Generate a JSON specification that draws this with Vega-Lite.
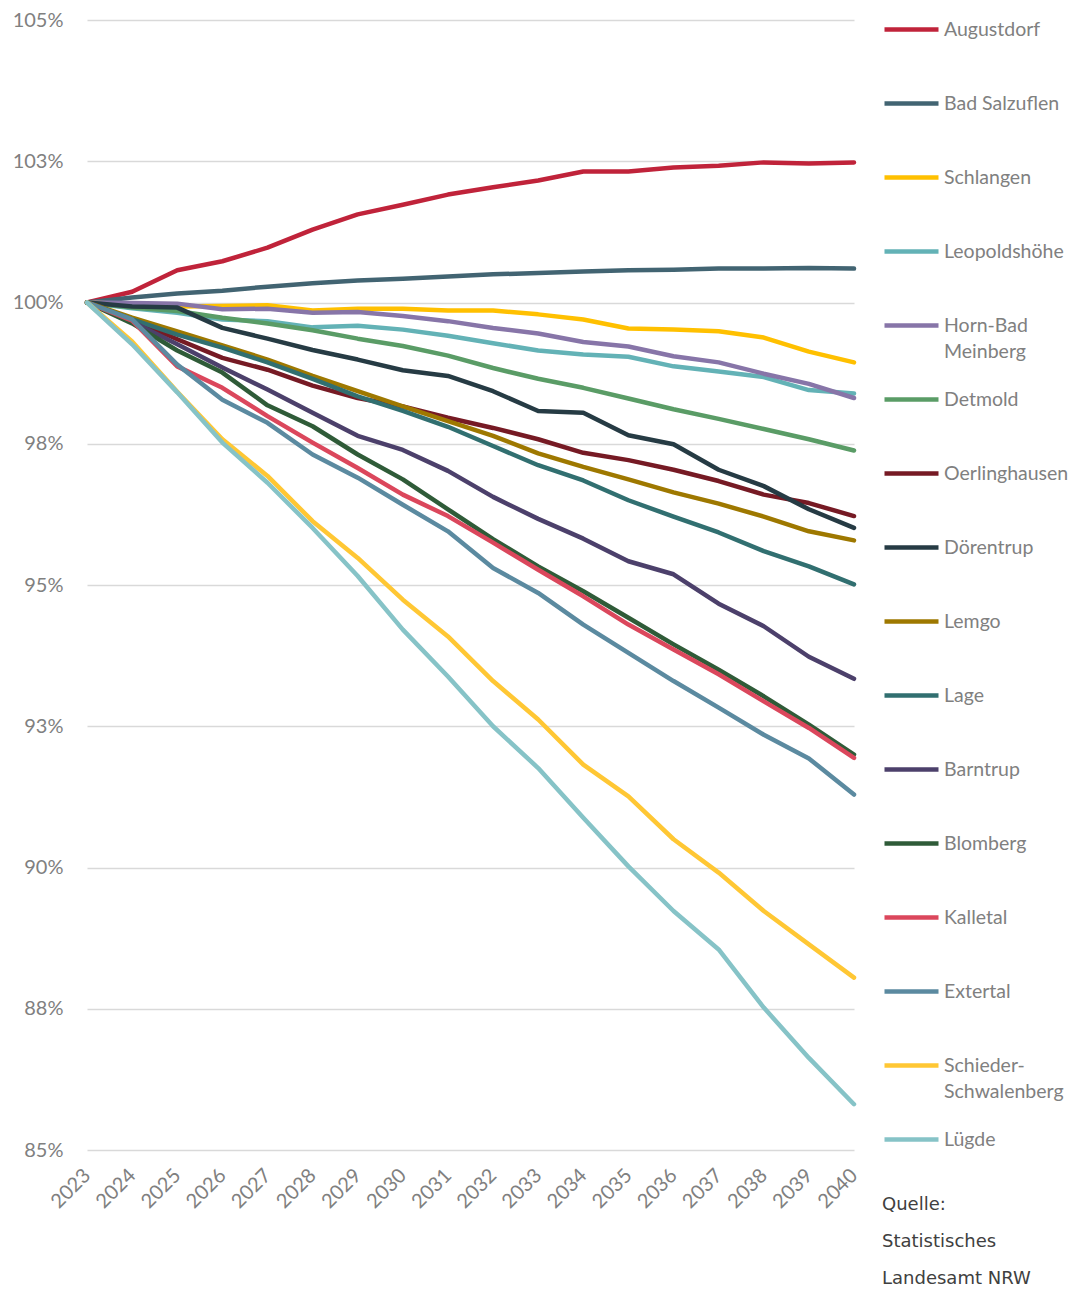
{
  "$schema": "https://vega.github.io/schema/vega-lite/v6.json",
  "width": 767,
  "height": 1150,
  "padding": {"left": 12, "top": 0, "right": 0, "bottom": 0},
  "background": "white",
  "data": {"values": [
{"s":"Augustdorf","t":2023,"v":100},{"s":"Augustdorf","t":2024,"v":100.19},{"s":"Augustdorf","t":2025,"v":100.57},{"s":"Augustdorf","t":2026,"v":100.73},{"s":"Augustdorf","t":2027,"v":100.97},{"s":"Augustdorf","t":2028,"v":101.29},{"s":"Augustdorf","t":2029,"v":101.56},{"s":"Augustdorf","t":2030,"v":101.73},{"s":"Augustdorf","t":2031,"v":101.91},{"s":"Augustdorf","t":2032,"v":102.04},{"s":"Augustdorf","t":2033,"v":102.16},{"s":"Augustdorf","t":2034,"v":102.32},{"s":"Augustdorf","t":2035,"v":102.32},{"s":"Augustdorf","t":2036,"v":102.39},{"s":"Augustdorf","t":2037,"v":102.42},{"s":"Augustdorf","t":2038,"v":102.48},{"s":"Augustdorf","t":2039,"v":102.46},{"s":"Augustdorf","t":2040,"v":102.48},
{"s":"Bad Salzuflen","t":2023,"v":100},{"s":"Bad Salzuflen","t":2024,"v":100.09},{"s":"Bad Salzuflen","t":2025,"v":100.16},{"s":"Bad Salzuflen","t":2026,"v":100.21},{"s":"Bad Salzuflen","t":2027,"v":100.28},{"s":"Bad Salzuflen","t":2028,"v":100.34},{"s":"Bad Salzuflen","t":2029,"v":100.39},{"s":"Bad Salzuflen","t":2030,"v":100.42},{"s":"Bad Salzuflen","t":2031,"v":100.46},{"s":"Bad Salzuflen","t":2032,"v":100.50},{"s":"Bad Salzuflen","t":2033,"v":100.52},{"s":"Bad Salzuflen","t":2034,"v":100.55},{"s":"Bad Salzuflen","t":2035,"v":100.57},{"s":"Bad Salzuflen","t":2036,"v":100.58},{"s":"Bad Salzuflen","t":2037,"v":100.60},{"s":"Bad Salzuflen","t":2038,"v":100.60},{"s":"Bad Salzuflen","t":2039,"v":100.61},{"s":"Bad Salzuflen","t":2040,"v":100.60},
{"s":"Schlangen","t":2023,"v":100},{"s":"Schlangen","t":2024,"v":99.97},{"s":"Schlangen","t":2025,"v":99.93},{"s":"Schlangen","t":2026,"v":99.94},{"s":"Schlangen","t":2027,"v":99.95},{"s":"Schlangen","t":2028,"v":99.86},{"s":"Schlangen","t":2029,"v":99.89},{"s":"Schlangen","t":2030,"v":99.89},{"s":"Schlangen","t":2031,"v":99.86},{"s":"Schlangen","t":2032,"v":99.86},{"s":"Schlangen","t":2033,"v":99.79},{"s":"Schlangen","t":2034,"v":99.70},{"s":"Schlangen","t":2035,"v":99.54},{"s":"Schlangen","t":2036,"v":99.52},{"s":"Schlangen","t":2037,"v":99.49},{"s":"Schlangen","t":2038,"v":99.38},{"s":"Schlangen","t":2039,"v":99.13},{"s":"Schlangen","t":2040,"v":98.94},
{"s":"Leopoldshöhe","t":2023,"v":100},{"s":"Leopoldshöhe","t":2024,"v":99.90},{"s":"Leopoldshöhe","t":2025,"v":99.82},{"s":"Leopoldshöhe","t":2026,"v":99.70},{"s":"Leopoldshöhe","t":2027,"v":99.67},{"s":"Leopoldshöhe","t":2028,"v":99.56},{"s":"Leopoldshöhe","t":2029,"v":99.59},{"s":"Leopoldshöhe","t":2030,"v":99.52},{"s":"Leopoldshöhe","t":2031,"v":99.41},{"s":"Leopoldshöhe","t":2032,"v":99.28},{"s":"Leopoldshöhe","t":2033,"v":99.15},{"s":"Leopoldshöhe","t":2034,"v":99.08},{"s":"Leopoldshöhe","t":2035,"v":99.04},{"s":"Leopoldshöhe","t":2036,"v":98.87},{"s":"Leopoldshöhe","t":2037,"v":98.78},{"s":"Leopoldshöhe","t":2038,"v":98.68},{"s":"Leopoldshöhe","t":2039,"v":98.45},{"s":"Leopoldshöhe","t":2040,"v":98.39},
{"s":"Horn-Bad Meinberg","t":2023,"v":100},{"s":"Horn-Bad Meinberg","t":2024,"v":99.99},{"s":"Horn-Bad Meinberg","t":2025,"v":99.98},{"s":"Horn-Bad Meinberg","t":2026,"v":99.88},{"s":"Horn-Bad Meinberg","t":2027,"v":99.89},{"s":"Horn-Bad Meinberg","t":2028,"v":99.82},{"s":"Horn-Bad Meinberg","t":2029,"v":99.83},{"s":"Horn-Bad Meinberg","t":2030,"v":99.76},{"s":"Horn-Bad Meinberg","t":2031,"v":99.67},{"s":"Horn-Bad Meinberg","t":2032,"v":99.55},{"s":"Horn-Bad Meinberg","t":2033,"v":99.45},{"s":"Horn-Bad Meinberg","t":2034,"v":99.30},{"s":"Horn-Bad Meinberg","t":2035,"v":99.22},{"s":"Horn-Bad Meinberg","t":2036,"v":99.05},{"s":"Horn-Bad Meinberg","t":2037,"v":98.94},{"s":"Horn-Bad Meinberg","t":2038,"v":98.74},{"s":"Horn-Bad Meinberg","t":2039,"v":98.56},{"s":"Horn-Bad Meinberg","t":2040,"v":98.31},
{"s":"Detmold","t":2023,"v":100},{"s":"Detmold","t":2024,"v":99.91},{"s":"Detmold","t":2025,"v":99.85},{"s":"Detmold","t":2026,"v":99.73},{"s":"Detmold","t":2027,"v":99.63},{"s":"Detmold","t":2028,"v":99.51},{"s":"Detmold","t":2029,"v":99.36},{"s":"Detmold","t":2030,"v":99.23},{"s":"Detmold","t":2031,"v":99.06},{"s":"Detmold","t":2032,"v":98.84},{"s":"Detmold","t":2033,"v":98.65},{"s":"Detmold","t":2034,"v":98.49},{"s":"Detmold","t":2035,"v":98.30},{"s":"Detmold","t":2036,"v":98.11},{"s":"Detmold","t":2037,"v":97.94},{"s":"Detmold","t":2038,"v":97.76},{"s":"Detmold","t":2039,"v":97.58},{"s":"Detmold","t":2040,"v":97.38},
{"s":"Oerlinghausen","t":2023,"v":100},{"s":"Oerlinghausen","t":2024,"v":99.70},{"s":"Oerlinghausen","t":2025,"v":99.35},{"s":"Oerlinghausen","t":2026,"v":99.02},{"s":"Oerlinghausen","t":2027,"v":98.81},{"s":"Oerlinghausen","t":2028,"v":98.53},{"s":"Oerlinghausen","t":2029,"v":98.31},{"s":"Oerlinghausen","t":2030,"v":98.16},{"s":"Oerlinghausen","t":2031,"v":97.96},{"s":"Oerlinghausen","t":2032,"v":97.78},{"s":"Oerlinghausen","t":2033,"v":97.58},{"s":"Oerlinghausen","t":2034,"v":97.34},{"s":"Oerlinghausen","t":2035,"v":97.21},{"s":"Oerlinghausen","t":2036,"v":97.04},{"s":"Oerlinghausen","t":2037,"v":96.84},{"s":"Oerlinghausen","t":2038,"v":96.60},{"s":"Oerlinghausen","t":2039,"v":96.45},{"s":"Oerlinghausen","t":2040,"v":96.22},
{"s":"Dörentrup","t":2023,"v":100},{"s":"Dörentrup","t":2024,"v":99.93},{"s":"Dörentrup","t":2025,"v":99.91},{"s":"Dörentrup","t":2026,"v":99.55},{"s":"Dörentrup","t":2027,"v":99.36},{"s":"Dörentrup","t":2028,"v":99.16},{"s":"Dörentrup","t":2029,"v":98.99},{"s":"Dörentrup","t":2030,"v":98.80},{"s":"Dörentrup","t":2031,"v":98.70},{"s":"Dörentrup","t":2032,"v":98.43},{"s":"Dörentrup","t":2033,"v":98.08},{"s":"Dörentrup","t":2034,"v":98.05},{"s":"Dörentrup","t":2035,"v":97.65},{"s":"Dörentrup","t":2036,"v":97.49},{"s":"Dörentrup","t":2037,"v":97.04},{"s":"Dörentrup","t":2038,"v":96.75},{"s":"Dörentrup","t":2039,"v":96.34},{"s":"Dörentrup","t":2040,"v":96.01},
{"s":"Lemgo","t":2023,"v":100},{"s":"Lemgo","t":2024,"v":99.73},{"s":"Lemgo","t":2025,"v":99.49},{"s":"Lemgo","t":2026,"v":99.24},{"s":"Lemgo","t":2027,"v":98.99},{"s":"Lemgo","t":2028,"v":98.70},{"s":"Lemgo","t":2029,"v":98.43},{"s":"Lemgo","t":2030,"v":98.16},{"s":"Lemgo","t":2031,"v":97.90},{"s":"Lemgo","t":2032,"v":97.64},{"s":"Lemgo","t":2033,"v":97.33},{"s":"Lemgo","t":2034,"v":97.09},{"s":"Lemgo","t":2035,"v":96.87},{"s":"Lemgo","t":2036,"v":96.64},{"s":"Lemgo","t":2037,"v":96.44},{"s":"Lemgo","t":2038,"v":96.21},{"s":"Lemgo","t":2039,"v":95.95},{"s":"Lemgo","t":2040,"v":95.79},
{"s":"Lage","t":2023,"v":100},{"s":"Lage","t":2024,"v":99.70},{"s":"Lage","t":2025,"v":99.43},{"s":"Lage","t":2026,"v":99.20},{"s":"Lage","t":2027,"v":98.94},{"s":"Lage","t":2028,"v":98.65},{"s":"Lage","t":2029,"v":98.34},{"s":"Lage","t":2030,"v":98.08},{"s":"Lage","t":2031,"v":97.80},{"s":"Lage","t":2032,"v":97.46},{"s":"Lage","t":2033,"v":97.12},{"s":"Lage","t":2034,"v":96.85},{"s":"Lage","t":2035,"v":96.50},{"s":"Lage","t":2036,"v":96.21},{"s":"Lage","t":2037,"v":95.93},{"s":"Lage","t":2038,"v":95.60},{"s":"Lage","t":2039,"v":95.33},{"s":"Lage","t":2040,"v":95.01},
{"s":"Barntrup","t":2023,"v":100},{"s":"Barntrup","t":2024,"v":99.66},{"s":"Barntrup","t":2025,"v":99.26},{"s":"Barntrup","t":2026,"v":98.85},{"s":"Barntrup","t":2027,"v":98.46},{"s":"Barntrup","t":2028,"v":98.05},{"s":"Barntrup","t":2029,"v":97.64},{"s":"Barntrup","t":2030,"v":97.39},{"s":"Barntrup","t":2031,"v":97.02},{"s":"Barntrup","t":2032,"v":96.56},{"s":"Barntrup","t":2033,"v":96.17},{"s":"Barntrup","t":2034,"v":95.82},{"s":"Barntrup","t":2035,"v":95.42},{"s":"Barntrup","t":2036,"v":95.19},{"s":"Barntrup","t":2037,"v":94.67},{"s":"Barntrup","t":2038,"v":94.27},{"s":"Barntrup","t":2039,"v":93.73},{"s":"Barntrup","t":2040,"v":93.34},
{"s":"Blomberg","t":2023,"v":100},{"s":"Blomberg","t":2024,"v":99.63},{"s":"Blomberg","t":2025,"v":99.15},{"s":"Blomberg","t":2026,"v":98.76},{"s":"Blomberg","t":2027,"v":98.18},{"s":"Blomberg","t":2028,"v":97.81},{"s":"Blomberg","t":2029,"v":97.31},{"s":"Blomberg","t":2030,"v":96.87},{"s":"Blomberg","t":2031,"v":96.34},{"s":"Blomberg","t":2032,"v":95.81},{"s":"Blomberg","t":2033,"v":95.33},{"s":"Blomberg","t":2034,"v":94.89},{"s":"Blomberg","t":2035,"v":94.42},{"s":"Blomberg","t":2036,"v":93.95},{"s":"Blomberg","t":2037,"v":93.50},{"s":"Blomberg","t":2038,"v":93.03},{"s":"Blomberg","t":2039,"v":92.53},{"s":"Blomberg","t":2040,"v":92.00},
{"s":"Kalletal","t":2023,"v":100},{"s":"Kalletal","t":2024,"v":99.68},{"s":"Kalletal","t":2025,"v":98.87},{"s":"Kalletal","t":2026,"v":98.49},{"s":"Kalletal","t":2027,"v":97.99},{"s":"Kalletal","t":2028,"v":97.52},{"s":"Kalletal","t":2029,"v":97.07},{"s":"Kalletal","t":2030,"v":96.60},{"s":"Kalletal","t":2031,"v":96.22},{"s":"Kalletal","t":2032,"v":95.75},{"s":"Kalletal","t":2033,"v":95.27},{"s":"Kalletal","t":2034,"v":94.80},{"s":"Kalletal","t":2035,"v":94.30},{"s":"Kalletal","t":2036,"v":93.86},{"s":"Kalletal","t":2037,"v":93.42},{"s":"Kalletal","t":2038,"v":92.94},{"s":"Kalletal","t":2039,"v":92.47},{"s":"Kalletal","t":2040,"v":91.94},
{"s":"Extertal","t":2023,"v":100},{"s":"Extertal","t":2024,"v":99.70},{"s":"Extertal","t":2025,"v":98.90},{"s":"Extertal","t":2026,"v":98.28},{"s":"Extertal","t":2027,"v":97.87},{"s":"Extertal","t":2028,"v":97.31},{"s":"Extertal","t":2029,"v":96.90},{"s":"Extertal","t":2030,"v":96.42},{"s":"Extertal","t":2031,"v":95.95},{"s":"Extertal","t":2032,"v":95.30},{"s":"Extertal","t":2033,"v":94.86},{"s":"Extertal","t":2034,"v":94.30},{"s":"Extertal","t":2035,"v":93.80},{"s":"Extertal","t":2036,"v":93.30},{"s":"Extertal","t":2037,"v":92.83},{"s":"Extertal","t":2038,"v":92.35},{"s":"Extertal","t":2039,"v":91.93},{"s":"Extertal","t":2040,"v":91.29},
{"s":"Schieder-Schwalenberg","t":2023,"v":100},{"s":"Schieder-Schwalenberg","t":2024,"v":99.31},{"s":"Schieder-Schwalenberg","t":2025,"v":98.42},{"s":"Schieder-Schwalenberg","t":2026,"v":97.58},{"s":"Schieder-Schwalenberg","t":2027,"v":96.93},{"s":"Schieder-Schwalenberg","t":2028,"v":96.13},{"s":"Schieder-Schwalenberg","t":2029,"v":95.48},{"s":"Schieder-Schwalenberg","t":2030,"v":94.74},{"s":"Schieder-Schwalenberg","t":2031,"v":94.09},{"s":"Schieder-Schwalenberg","t":2032,"v":93.30},{"s":"Schieder-Schwalenberg","t":2033,"v":92.62},{"s":"Schieder-Schwalenberg","t":2034,"v":91.82},{"s":"Schieder-Schwalenberg","t":2035,"v":91.26},{"s":"Schieder-Schwalenberg","t":2036,"v":90.50},{"s":"Schieder-Schwalenberg","t":2037,"v":89.91},{"s":"Schieder-Schwalenberg","t":2038,"v":89.23},{"s":"Schieder-Schwalenberg","t":2039,"v":88.64},{"s":"Schieder-Schwalenberg","t":2040,"v":88.05},
{"s":"Lügde","t":2023,"v":100},{"s":"Lügde","t":2024,"v":99.26},{"s":"Lügde","t":2025,"v":98.41},{"s":"Lügde","t":2026,"v":97.52},{"s":"Lügde","t":2027,"v":96.81},{"s":"Lügde","t":2028,"v":96.01},{"s":"Lügde","t":2029,"v":95.16},{"s":"Lügde","t":2030,"v":94.21},{"s":"Lügde","t":2031,"v":93.38},{"s":"Lügde","t":2032,"v":92.50},{"s":"Lügde","t":2033,"v":91.76},{"s":"Lügde","t":2034,"v":90.88},{"s":"Lügde","t":2035,"v":90.02},{"s":"Lügde","t":2036,"v":89.23},{"s":"Lügde","t":2037,"v":88.55},{"s":"Lügde","t":2038,"v":87.52},{"s":"Lügde","t":2039,"v":86.63},{"s":"Lügde","t":2040,"v":85.81}
  ]},
  "mark": {"type": "line", "strokeWidth": 4.5, "strokeJoin": "round", "strokeCap": "round"},
  "encoding": {
    "x": {
      "field": "t", "type": "ordinal",
      "scale": {"type": "point", "padding": 0},
      "axis": {
        "title": null, "domain": false, "ticks": false, "tickSize": 0, "grid": false,
        "labelAngle": -45, "labelAlign": "right", "labelBaseline": "middle",
        "labelPadding": 22, "labelFont": "Lato", "labelFontSize": 20, "labelColor": "#808080"
      }
    },
    "y": {
      "field": "v", "type": "quantitative",
      "scale": {"domain": [85, 105.354], "nice": false, "zero": false},
      "axis": {
        "title": null, "domain": false, "ticks": false, "tickSize": 0,
        "values": [85, 87.5, 90, 92.5, 95, 97.5, 100, 102.5, 105],
        "labelExpr": "format(datum.value, '.0f') + '%'",
        "labelPadding": 24, "labelFont": "Lato", "labelFontSize": 20, "labelColor": "#808080",
        "gridColor": "#D9D9D9", "gridWidth": 1.5
      }
    },
    "color": {
      "field": "s", "type": "nominal",
      "scale": {
        "domain": ["Augustdorf", "Bad Salzuflen", "Schlangen", "Leopoldshöhe", "Horn-Bad Meinberg", "Detmold", "Oerlinghausen", "Dörentrup", "Lemgo", "Lage", "Barntrup", "Blomberg", "Kalletal", "Extertal", "Schieder-Schwalenberg", "Lügde"],
        "range": ["#C0233A", "#426472", "#FFC000", "#63B2B6", "#8775A8", "#5A9C66", "#761A24", "#263B44", "#9E7800", "#316F70", "#4C406B", "#2F5B38", "#DB475C", "#5B8AA0", "#FFC734", "#86C3C7"]
      },
      "legend": {
        "title": ["Quelle:", "Statistisches", "Landesamt NRW"],
        "titleOrient": "bottom",
        "titleFont": "DejaVu Sans", "titleFontSize": 18, "titleFontWeight": "normal",
        "titleColor": "#404040", "titleLineHeight": 37, "titlePadding": 47,
        "orient": "right", "offset": 25, "padding": 0,
        "symbolType": "stroke", "symbolSize": 2916, "symbolStrokeWidth": 4.5,
        "labelFont": "Lato", "labelFontSize": 19.5, "labelColor": "#808080",
        "labelOffset": 3, "labelLimit": 200, "rowPadding": 9, "gridAlign": "all",
        "labelExpr": "datum.label == 'Horn-Bad Meinberg' ? ['Horn-Bad', 'Meinberg'] : datum.label == 'Schieder-Schwalenberg' ? ['Schieder-', 'Schwalenberg'] : datum.label"
      }
    }
  },
  "config": {
    "view": {"stroke": null},
    "style": {"guide-label": {"lineHeight": 26}}
  }
}
